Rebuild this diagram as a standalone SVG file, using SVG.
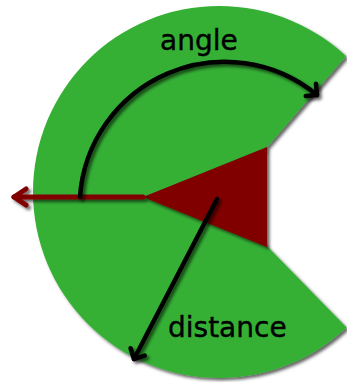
<svg xmlns="http://www.w3.org/2000/svg" width="347" height="382" viewBox="0 0 347 382">
<style>
.lbl{font-family:"DejaVu Sans",Verdana,sans-serif;font-size:28px;fill:#000;stroke:#000;stroke-width:0.4}
.blk{fill:none;stroke:#000;stroke-width:4.5;stroke-linecap:round}
.red{fill:none;stroke:#800000;stroke-width:5;stroke-linecap:round}
</style>
<defs>
<filter id="sh" filterUnits="userSpaceOnUse" x="-20" y="-20" width="400" height="420">
<feDropShadow dx="2.5" dy="2.5" stdDeviation="1.5" flood-color="#000" flood-opacity="0.6"/>
</filter>
<clipPath id="cut">
<polygon points="-10,-40 420,-40 420,-29 221.5,199.4 420,402.8 420,420 -10,420"/>
</clipPath>
<marker id="ab" markerUnits="userSpaceOnUse" orient="auto" overflow="visible" markerWidth="20" markerHeight="20">
<path d="M-8,-8 L0,0 L-8,8" fill="none" stroke="#000" stroke-width="4.5" stroke-linecap="round" stroke-linejoin="round"/>
</marker>
<marker id="ar" markerUnits="userSpaceOnUse" orient="auto" overflow="visible" markerWidth="20" markerHeight="20">
<path d="M-12,-8 L0,0 L-12,8" fill="none" stroke="#800000" stroke-width="5" stroke-linecap="round" stroke-linejoin="round"/>
</marker>
</defs>
<g id="sector" filter="url(#sh)">
<circle cx="219" cy="192" r="186" fill="#34b034" clip-path="url(#cut)"/>
</g>
<g id="robot" filter="url(#sh)">
<polygon points="143,197 267,147 267,247" fill="#800000"/>
</g>
<g id="connectors">
<g filter="url(#sh)">
<path class="red" d="M143,197 L14,197" marker-end="url(#ar)"/>
</g>
<g filter="url(#sh)">
<path class="blk" d="M80,197 A145,145 0 0,1 317,95" marker-end="url(#ab)"/>
</g>
<g filter="url(#sh)">
<path class="blk" d="M217,199 L134,359" marker-end="url(#ab)"/>
</g>
</g>
<g id="label-angle"><text class="lbl" x="160" y="50">angle</text></g>
<g id="label-distance"><text class="lbl" x="168" y="337">distance</text></g>
</svg>
